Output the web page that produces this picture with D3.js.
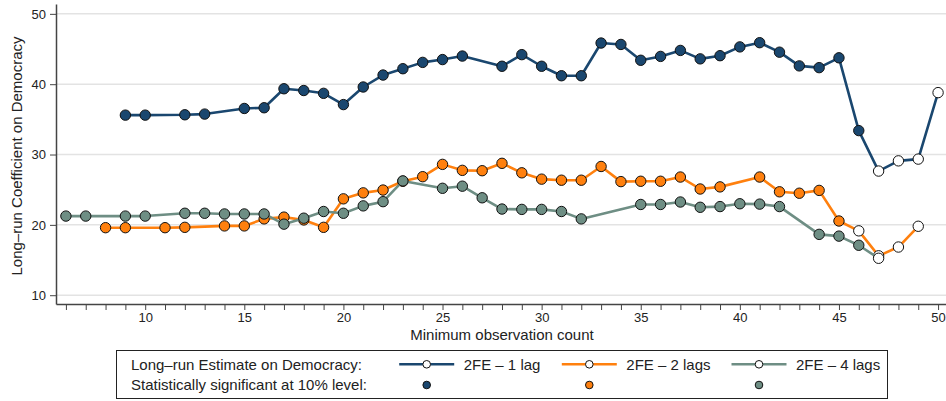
<!DOCTYPE html>
<html>
<head>
<meta charset="utf-8">
<script src="https://cdn.jsdelivr.net/npm/d3@7"></script>
<style>
  body { margin: 0; background: #fff; }
  text { font-family: "Liberation Sans", Arial, sans-serif; fill: #222; }
</style>
</head>
<body>
<script>
// minimum observation count on x, long-run estimate on y
var lag1X = [9,10,12,13,15,16,17,18,19,20,21,22,23,24,25,26,28,29,30,31,32,33,34,35,36,37,38,39,40,41,42,43,44,45,46,47,48,49,50];
var lag1Y = [35.6,35.6,35.65,35.75,36.55,36.65,39.35,39.1,38.7,37.1,39.6,41.3,42.2,43.1,43.5,44.0,42.55,44.2,42.55,41.2,41.2,45.85,45.65,43.4,43.95,44.8,43.6,44.05,45.3,45.9,44.55,42.6,42.35,43.75,33.4,27.65,29.1,29.35,38.8];
var lag1Sig = [1,1,1,1,1,1,1,1,1,1,1,1,1,1,1,1,1,1,1,1,1,1,1,1,1,1,1,1,1,1,1,1,1,1,1,0,0,0,0];

var lag2X = [8,9,11,12,14,15,16,17,18,19,20,21,22,23,24,25,26,27,28,29,30,31,32,33,34,35,36,37,38,39,41,42,43,44,45,46,47,48,49];
var lag2Y = [19.6,19.6,19.6,19.65,19.85,19.85,20.85,21.1,20.7,19.65,23.7,24.55,24.95,26.2,26.85,28.6,27.75,27.7,28.75,27.4,26.5,26.35,26.35,28.3,26.15,26.2,26.2,26.8,25.1,25.4,26.8,24.7,24.5,24.9,20.55,19.15,15.6,16.85,19.8];
var lag2Sig = [1,1,1,1,1,1,1,1,1,1,1,1,1,1,1,1,1,1,1,1,1,1,1,1,1,1,1,1,1,1,1,1,1,1,1,0,0,0,0];

var lag4X = [6,7,9,10,12,13,14,15,16,17,18,19,20,21,22,23,25,26,27,28,29,30,31,32,35,36,37,38,39,40,41,42,44,45,46,47];
var lag4Y = [21.25,21.25,21.25,21.25,21.65,21.65,21.55,21.55,21.55,20.1,20.95,21.9,21.65,22.7,23.3,26.25,25.2,25.5,23.85,22.25,22.2,22.2,21.9,20.85,22.9,22.9,23.25,22.5,22.6,23.0,22.95,22.6,18.65,18.4,17.1,15.25];
var lag4Sig = [1,1,1,1,1,1,1,1,1,1,1,1,1,1,1,1,1,1,1,1,1,1,1,1,1,1,1,1,1,1,1,1,1,1,1,0];

var seriesNames = ['2FE \u2013 1 lag', '2FE \u2013 2 lags', '2FE \u2013 4 lags'];
var seriesColors = ['#1a476f', '#ff800e', '#6e8e84'];
var yTicks = [10, 20, 30, 40, 50];
var xTicks = d3.range(6, 51);

var width = 946, height = 401;

var svg = d3.select('body').append('svg')
  .attr('width', width)
  .attr('height', height);

var x = d3.scaleLinear().domain([5.5, 50.4]).range([56, 946]);
var y = d3.scaleLinear().domain([8.75, 51.4]).range([304, 4]);

// gridlines
svg.append('g')
  .selectAll('line')
  .data(yTicks)
  .enter().append('line')
  .attr('x1', 57).attr('x2', 946)
  .attr('y1', function(d) { return y(d); })
  .attr('y2', function(d) { return y(d); })
  .attr('stroke', '#e3e3e3')
  .attr('stroke-width', 1.5);

var yAxis = svg.append('g')
  .attr('transform', 'translate(56,0)')
  .call(d3.axisLeft(y).tickValues(yTicks).tickSize(6).tickSizeOuter(0).tickPadding(4));

var xAxis = svg.append('g')
  .attr('transform', 'translate(0,304)')
  .call(d3.axisBottom(x).tickValues(xTicks).tickSize(6).tickSizeOuter(0).tickPadding(3)
    .tickFormat(function(d) { return d % 5 === 0 ? d : ''; }));

[yAxis, xAxis].forEach(function(a) {
  a.select('.domain').attr('stroke', '#444').attr('stroke-width', 1.5);
  a.selectAll('.tick line').attr('stroke', '#444').attr('stroke-width', 1);
  a.selectAll('.tick text').attr('font-size', 13).attr('fill', '#222')
    .style('font-family', '"Liberation Sans", Arial, sans-serif');
});

svg.append('text')
  .attr('transform', 'translate(22,156) rotate(-90)')
  .attr('text-anchor', 'middle')
  .attr('font-size', 15)
  .text('Long\u2013run Coefficient on Democracy');

svg.append('text')
  .attr('x', 502).attr('y', 340)
  .attr('text-anchor', 'middle')
  .attr('font-size', 15)
  .text('Minimum observation count');

var series = [
  {xs: lag1X, ys: lag1Y, sig: lag1Sig},
  {xs: lag2X, ys: lag2Y, sig: lag2Sig},
  {xs: lag4X, ys: lag4Y, sig: lag4Sig}
];

var line = d3.line()
  .x(function(d) { return x(d.x); })
  .y(function(d) { return y(d.y); });

series.forEach(function(s, i) {
  var pts = s.xs.map(function(v, j) { return {x: v, y: s.ys[j], sig: s.sig[j]}; });
  var g = svg.append('g');
  g.append('path')
    .datum(pts)
    .attr('d', line)
    .attr('fill', 'none')
    .attr('stroke', seriesColors[i])
    .attr('stroke-width', 2.6)
    .attr('stroke-linejoin', 'round');
  g.selectAll('circle')
    .data(pts)
    .enter().append('circle')
    .attr('cx', function(d) { return x(d.x); })
    .attr('cy', function(d) { return y(d.y); })
    .attr('r', 5.2)
    .attr('fill', function(d) { return d.sig ? seriesColors[i] : '#fff'; })
    .attr('stroke', '#111')
    .attr('stroke-width', 1);
});

// legend
var legend = svg.append('g');
legend.append('rect')
  .attr('x', 116.5).attr('y', 350.5)
  .attr('width', 771).attr('height', 48)
  .attr('fill', '#fff')
  .attr('stroke', '#222')
  .attr('stroke-width', 1);

legend.append('text')
  .attr('x', 131).attr('y', 369.5)
  .attr('font-size', 15)
  .text('Long\u2013run Estimate on Democracy:');
legend.append('text')
  .attr('x', 131).attr('y', 390)
  .attr('font-size', 15)
  .text('Statistically significant at 10% level:');

var keyX = [426.7, 589.3, 759];
seriesNames.forEach(function(name, i) {
  var cx = keyX[i];
  legend.append('line')
    .attr('x1', cx - 27.5).attr('x2', cx + 27.5)
    .attr('y1', 364.3).attr('y2', 364.3)
    .attr('stroke', seriesColors[i])
    .attr('stroke-width', 2.6);
  legend.append('circle')
    .attr('cx', cx).attr('cy', 364.3).attr('r', 3.8)
    .attr('fill', '#fff').attr('stroke', '#111').attr('stroke-width', 1);
  legend.append('text')
    .attr('x', cx + 37).attr('y', 369.5)
    .attr('font-size', 15)
    .text(name);
  legend.append('circle')
    .attr('cx', cx).attr('cy', 385).attr('r', 3.8)
    .attr('fill', seriesColors[i]).attr('stroke', '#111').attr('stroke-width', 1);
});
</script>
</body>
</html>
